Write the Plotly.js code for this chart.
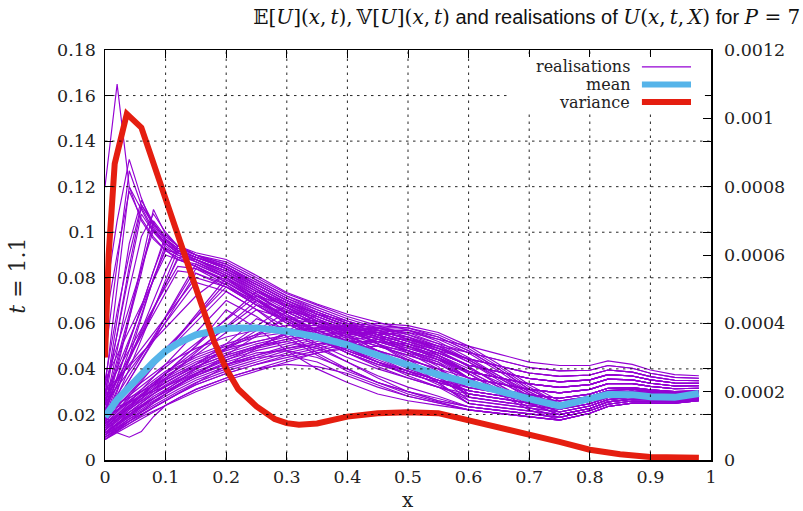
<!DOCTYPE html>
<html>
<head>
<meta charset="utf-8">
<script src="https://cdn.plot.ly/plotly-3.0.1.min.js"></script>
<style>html,body{margin:0;padding:0;background:#fff;}#chart{width:803px;height:511px;}</style>
</head>
<body>
<div id="chart"></div>
<script>
// ---------------- data ----------------
const xGrid = [0, 0.02, 0.04, 0.06, 0.08, 0.1, 0.12, 0.15, 0.2, 0.25, 0.3, 0.35, 0.4, 0.45, 0.5, 0.55, 0.6, 0.65, 0.7, 0.75, 0.8, 0.83, 0.87, 0.9, 0.94, 0.98];

// realisations U(x,t,X)
const realE01 = [0.120, 0.165, 0.120, 0.105, 0.097, 0.092, 0.089, 0.085, 0.078, 0.070, 0.063, 0.057, 0.052, 0.048, 0.044, 0.040, 0.0360, 0.0335, 0.0310, 0.0295, 0.0310, 0.0335, 0.0335, 0.0323, 0.0313, 0.0315];
const realE02 = [0.070, 0.105, 0.132, 0.115, 0.102, 0.095, 0.091, 0.088, 0.081, 0.074, 0.067, 0.061, 0.056, 0.052, 0.048, 0.044, 0.0388, 0.0361, 0.0334, 0.0319, 0.0331, 0.0355, 0.0352, 0.0337, 0.0325, 0.0326];
const realE03 = [0.045, 0.085, 0.127, 0.112, 0.104, 0.097, 0.092, 0.089, 0.084, 0.077, 0.070, 0.064, 0.059, 0.055, 0.051, 0.047, 0.0416, 0.0387, 0.0358, 0.0343, 0.0352, 0.0375, 0.0369, 0.0352, 0.0338, 0.0337];
const realE04 = [0.032, 0.075, 0.120, 0.110, 0.100, 0.094, 0.090, 0.087, 0.080, 0.072, 0.065, 0.059, 0.054, 0.050, 0.046, 0.042, 0.0360, 0.0335, 0.0310, 0.0295, 0.0310, 0.0335, 0.0335, 0.0323, 0.0313, 0.0315];
const realE05 = [0.028, 0.062, 0.095, 0.114, 0.104, 0.097, 0.093, 0.090, 0.086, 0.079, 0.072, 0.066, 0.061, 0.057, 0.053, 0.049, 0.0444, 0.0413, 0.0382, 0.0367, 0.0373, 0.0395, 0.0386, 0.0366, 0.0350, 0.0348];
const realE06 = [0.024, 0.048, 0.075, 0.098, 0.108, 0.100, 0.094, 0.090, 0.087, 0.080, 0.073, 0.068, 0.063, 0.059, 0.055, 0.051, 0.0472, 0.0439, 0.0406, 0.0391, 0.0394, 0.0415, 0.0403, 0.0381, 0.0363, 0.0359];
const realE07 = [0.022, 0.042, 0.062, 0.082, 0.105, 0.098, 0.094, 0.091, 0.088, 0.081, 0.0735, 0.0685, 0.064, 0.0605, 0.057, 0.053, 0.0500, 0.0465, 0.0430, 0.0415, 0.0415, 0.0435, 0.0420, 0.0395, 0.0375, 0.0370];
const realE08 = [0.020, 0.036, 0.052, 0.068, 0.083, 0.097, 0.093, 0.089, 0.085, 0.078, 0.071, 0.066, 0.061, 0.057, 0.053, 0.049, 0.0444, 0.0413, 0.0382, 0.0367, 0.0373, 0.0395, 0.0386, 0.0366, 0.0350, 0.0348];
const realE09 = [0.018, 0.031, 0.044, 0.057, 0.070, 0.083, 0.094, 0.090, 0.084, 0.076, 0.069, 0.064, 0.059, 0.055, 0.051, 0.047, 0.0416, 0.0387, 0.0358, 0.0343, 0.0352, 0.0375, 0.0369, 0.0352, 0.0338, 0.0337];
const realE10 = [0.017, 0.030, 0.045, 0.062, 0.080, 0.092, 0.091, 0.088, 0.082, 0.075, 0.068, 0.062, 0.057, 0.053, 0.049, 0.045, 0.0388, 0.0361, 0.0334, 0.0319, 0.0331, 0.0355, 0.0352, 0.0337, 0.0325, 0.0326];
const realE11 = [0.026, 0.055, 0.085, 0.111, 0.101, 0.095, 0.091, 0.088, 0.083, 0.076, 0.069, 0.063, 0.058, 0.054, 0.050, 0.046, 0.0388, 0.0361, 0.0334, 0.0319, 0.0331, 0.0355, 0.0352, 0.0337, 0.0325, 0.0326];
const realE12 = [0.021, 0.040, 0.062, 0.086, 0.110, 0.099, 0.094, 0.090, 0.085, 0.077, 0.070, 0.064, 0.059, 0.055, 0.051, 0.047, 0.0416, 0.0387, 0.0358, 0.0343, 0.0352, 0.0375, 0.0369, 0.0352, 0.0338, 0.0337];
const realE13 = [0.030, 0.055, 0.082, 0.108, 0.100, 0.095, 0.091, 0.088, 0.082, 0.074, 0.067, 0.061, 0.056, 0.052, 0.048, 0.044, 0.0388, 0.0361, 0.0334, 0.0319, 0.0331, 0.0355, 0.0352, 0.0337, 0.0325, 0.0326];
const realE14 = [0.019, 0.033, 0.048, 0.064, 0.080, 0.095, 0.092, 0.089, 0.084, 0.077, 0.070, 0.065, 0.060, 0.056, 0.052, 0.048, 0.0416, 0.0387, 0.0358, 0.0343, 0.0352, 0.0375, 0.0369, 0.0352, 0.0338, 0.0337];
const realE15 = [0.016, 0.028, 0.040, 0.053, 0.066, 0.079, 0.092, 0.089, 0.085, 0.078, 0.071, 0.065, 0.060, 0.056, 0.052, 0.048, 0.0444, 0.0413, 0.0382, 0.0367, 0.0373, 0.0395, 0.0386, 0.0366, 0.0350, 0.0348];
const realE16 = [0.060, 0.090, 0.118, 0.106, 0.098, 0.092, 0.088, 0.085, 0.078, 0.070, 0.063, 0.057, 0.052, 0.048, 0.044, 0.040, 0.0332, 0.0309, 0.0286, 0.0271, 0.0289, 0.0315, 0.0318, 0.0308, 0.0300, 0.0304];
const realE17 = [0.024, 0.044, 0.064, 0.084, 0.104, 0.097, 0.092, 0.088, 0.083, 0.076, 0.069, 0.063, 0.058, 0.054, 0.050, 0.046, 0.0388, 0.0361, 0.0334, 0.0319, 0.0331, 0.0355, 0.0352, 0.0337, 0.0325, 0.0326];
const realE18 = [0.021, 0.037, 0.052, 0.067, 0.083, 0.099, 0.094, 0.090, 0.086, 0.079, 0.072, 0.067, 0.062, 0.058, 0.054, 0.050, 0.0472, 0.0439, 0.0406, 0.0391, 0.0394, 0.0415, 0.0403, 0.0381, 0.0363, 0.0359];
const realE19 = [0.035, 0.065, 0.090, 0.112, 0.103, 0.096, 0.092, 0.089, 0.084, 0.077, 0.070, 0.064, 0.059, 0.055, 0.051, 0.047, 0.0416, 0.0387, 0.0358, 0.0343, 0.0352, 0.0375, 0.0369, 0.0352, 0.0338, 0.0337];
const realE20 = [0.022, 0.033, 0.044, 0.055, 0.066, 0.077, 0.089, 0.088, 0.083, 0.075, 0.068, 0.062, 0.057, 0.053, 0.049, 0.045, 0.0360, 0.0335, 0.0310, 0.0295, 0.0310, 0.0335, 0.0335, 0.0323, 0.0313, 0.0315];
const realE21 = [0.026, 0.040, 0.053, 0.066, 0.079, 0.093, 0.090, 0.087, 0.081, 0.074, 0.067, 0.061, 0.056, 0.052, 0.048, 0.044, 0.0360, 0.0335, 0.0310, 0.0295, 0.0310, 0.0335, 0.0335, 0.0323, 0.0313, 0.0315];
const realE22 = [0.033, 0.050, 0.067, 0.084, 0.101, 0.095, 0.091, 0.087, 0.081, 0.073, 0.066, 0.060, 0.055, 0.051, 0.047, 0.043, 0.0332, 0.0309, 0.0286, 0.0271, 0.0289, 0.0315, 0.0318, 0.0308, 0.0300, 0.0304];

const realM01 = [0.016, 0.025, 0.035, 0.044, 0.053, 0.063, 0.072, 0.086, 0.080, 0.070, 0.061, 0.054, 0.048, 0.043, 0.039, 0.035, 0.0332, 0.0309, 0.0286, 0.0271, 0.0289, 0.0315, 0.0318, 0.0308, 0.0300, 0.0304];
const realM02 = [0.015, 0.0215, 0.028, 0.0345, 0.041, 0.0475, 0.054, 0.064, 0.080, 0.073, 0.064, 0.056, 0.049, 0.043, 0.038, 0.034, 0.0304, 0.0283, 0.0262, 0.0247, 0.0268, 0.0295, 0.0301, 0.0294, 0.0288, 0.0293];
const realM03 = [0.020, 0.0254, 0.0308, 0.0362, 0.0416, 0.047, 0.0524, 0.0605, 0.074, 0.066, 0.056, 0.047, 0.040, 0.034, 0.030, 0.026, 0.0234, 0.0218, 0.0202, 0.0187, 0.0216, 0.0245, 0.0259, 0.0257, 0.0256, 0.0266];
const realM04 = [0.014, 0.0188, 0.0236, 0.0284, 0.0332, 0.038, 0.0428, 0.050, 0.062, 0.074, 0.069, 0.062, 0.055, 0.048, 0.042, 0.037, 0.0318, 0.0296, 0.0274, 0.0259, 0.0279, 0.0305, 0.0310, 0.0301, 0.0294, 0.0299];
const realM05 = [0.018, 0.022, 0.026, 0.030, 0.034, 0.038, 0.042, 0.048, 0.058, 0.068, 0.065, 0.059, 0.052, 0.045, 0.039, 0.033, 0.0262, 0.0244, 0.0226, 0.0211, 0.0237, 0.0265, 0.0276, 0.0272, 0.0269, 0.0277];
const realM06 = [0.012, 0.0157, 0.0195, 0.0232, 0.0269, 0.0307, 0.0344, 0.040, 0.0493, 0.0587, 0.068, 0.065, 0.060, 0.054, 0.047, 0.040, 0.0290, 0.0270, 0.0250, 0.0235, 0.0258, 0.0285, 0.0293, 0.0286, 0.0281, 0.0288];
const realM07 = [0.025, 0.032, 0.039, 0.046, 0.053, 0.060, 0.067, 0.078, 0.074, 0.066, 0.058, 0.051, 0.045, 0.040, 0.036, 0.032, 0.0290, 0.0270, 0.0250, 0.0235, 0.0258, 0.0285, 0.0293, 0.0286, 0.0281, 0.0288];
const realM08 = [0.030, 0.039, 0.048, 0.0575, 0.0667, 0.0758, 0.085, 0.084, 0.077, 0.068, 0.060, 0.053, 0.047, 0.042, 0.038, 0.034, 0.0304, 0.0283, 0.0262, 0.0247, 0.0268, 0.0295, 0.0301, 0.0294, 0.0288, 0.0293];
const realM09 = [0.022, 0.0247, 0.0273, 0.030, 0.0327, 0.0353, 0.038, 0.042, 0.0487, 0.0553, 0.062, 0.060, 0.055, 0.048, 0.041, 0.034, 0.0248, 0.0231, 0.0214, 0.0199, 0.0226, 0.0255, 0.0267, 0.0265, 0.0263, 0.0271];
const realM10 = [0.035, 0.046, 0.057, 0.068, 0.079, 0.090, 0.088, 0.085, 0.079, 0.072, 0.065, 0.059, 0.054, 0.050, 0.046, 0.042, 0.0360, 0.0335, 0.0310, 0.0295, 0.0310, 0.0335, 0.0335, 0.0323, 0.0313, 0.0315];
const realM11 = [0.013, 0.018, 0.023, 0.028, 0.033, 0.038, 0.043, 0.050, 0.066, 0.058, 0.048, 0.040, 0.034, 0.029, 0.026, 0.024, 0.0220, 0.0205, 0.0190, 0.0175, 0.0205, 0.0235, 0.0250, 0.0250, 0.0250, 0.0260];
const realM12 = [0.019, 0.022, 0.025, 0.028, 0.031, 0.034, 0.037, 0.042, 0.051, 0.062, 0.057, 0.050, 0.043, 0.037, 0.032, 0.028, 0.0234, 0.0218, 0.0202, 0.0187, 0.0216, 0.0245, 0.0259, 0.0257, 0.0256, 0.0266];
const realM13 = [0.030, 0.0356, 0.0412, 0.0468, 0.0524, 0.058, 0.0636, 0.072, 0.082, 0.075, 0.067, 0.059, 0.052, 0.046, 0.041, 0.037, 0.0332, 0.0309, 0.0286, 0.0271, 0.0289, 0.0315, 0.0318, 0.0308, 0.0300, 0.0304];
const realM14 = [0.011, 0.014, 0.017, 0.020, 0.023, 0.026, 0.029, 0.0337, 0.0413, 0.049, 0.0564, 0.064, 0.061, 0.055, 0.048, 0.041, 0.0276, 0.0257, 0.0238, 0.0223, 0.0247, 0.0275, 0.0284, 0.0279, 0.0275, 0.0282];
const realM15 = [0.020, 0.0285, 0.037, 0.0456, 0.0541, 0.0627, 0.0712, 0.084, 0.079, 0.071, 0.063, 0.056, 0.050, 0.045, 0.041, 0.037, 0.0332, 0.0309, 0.0286, 0.0271, 0.0289, 0.0315, 0.0318, 0.0308, 0.0300, 0.0304];
const realM16 = [0.017, 0.0231, 0.0292, 0.0353, 0.0414, 0.0475, 0.0536, 0.0628, 0.078, 0.071, 0.062, 0.054, 0.047, 0.041, 0.036, 0.032, 0.0276, 0.0257, 0.0238, 0.0223, 0.0247, 0.0275, 0.0284, 0.0279, 0.0275, 0.0282];
const realM17 = [0.013, 0.0176, 0.0222, 0.0267, 0.0312, 0.0358, 0.0404, 0.0472, 0.0586, 0.070, 0.066, 0.060, 0.053, 0.046, 0.040, 0.035, 0.0290, 0.0270, 0.0250, 0.0235, 0.0258, 0.0285, 0.0293, 0.0286, 0.0281, 0.0288];
const realM18 = [0.024, 0.0347, 0.0453, 0.056, 0.0667, 0.0773, 0.088, 0.086, 0.080, 0.072, 0.064, 0.057, 0.051, 0.046, 0.042, 0.038, 0.0318, 0.0296, 0.0274, 0.0259, 0.0279, 0.0305, 0.0310, 0.0301, 0.0294, 0.0299];
const realM19 = [0.016, 0.0193, 0.0225, 0.0258, 0.029, 0.0323, 0.0356, 0.0405, 0.0487, 0.0568, 0.065, 0.063, 0.058, 0.051, 0.044, 0.037, 0.0262, 0.0244, 0.0226, 0.0211, 0.0237, 0.0265, 0.0276, 0.0272, 0.0269, 0.0277];
const realM20 = [0.028, 0.035, 0.0419, 0.0488, 0.0557, 0.0627, 0.0696, 0.080, 0.076, 0.068, 0.060, 0.053, 0.047, 0.042, 0.038, 0.034, 0.0304, 0.0283, 0.0262, 0.0247, 0.0268, 0.0295, 0.0301, 0.0294, 0.0288, 0.0293];
const realM21 = [0.014, 0.0196, 0.0252, 0.0308, 0.0364, 0.042, 0.0476, 0.056, 0.070, 0.063, 0.054, 0.046, 0.039, 0.034, 0.030, 0.027, 0.0234, 0.0218, 0.0202, 0.0187, 0.0216, 0.0245, 0.0259, 0.0257, 0.0256, 0.0266];
const realM22 = [0.021, 0.0233, 0.0256, 0.0279, 0.0301, 0.0324, 0.0347, 0.0381, 0.0439, 0.0496, 0.0553, 0.061, 0.058, 0.051, 0.043, 0.034, 0.0248, 0.0231, 0.0214, 0.0199, 0.0226, 0.0255, 0.0267, 0.0265, 0.0263, 0.0271];
const realM23 = [0.018, 0.0265, 0.035, 0.0436, 0.0521, 0.0607, 0.0692, 0.082, 0.077, 0.069, 0.061, 0.054, 0.048, 0.043, 0.039, 0.035, 0.0318, 0.0296, 0.0274, 0.0259, 0.0279, 0.0305, 0.0310, 0.0301, 0.0294, 0.0299];
const realM24 = [0.022, 0.0274, 0.0328, 0.0382, 0.0436, 0.049, 0.0544, 0.0625, 0.076, 0.070, 0.062, 0.055, 0.049, 0.044, 0.039, 0.035, 0.0304, 0.0283, 0.0262, 0.0247, 0.0268, 0.0295, 0.0301, 0.0294, 0.0288, 0.0293];
const realM25 = [0.016, 0.020, 0.024, 0.028, 0.032, 0.036, 0.040, 0.046, 0.056, 0.066, 0.062, 0.056, 0.049, 0.043, 0.037, 0.032, 0.0248, 0.0231, 0.0214, 0.0199, 0.0226, 0.0255, 0.0267, 0.0265, 0.0263, 0.0271];
const realM26 = [0.012, 0.0154, 0.0188, 0.0222, 0.0256, 0.029, 0.0324, 0.0375, 0.046, 0.0545, 0.063, 0.061, 0.057, 0.051, 0.045, 0.039, 0.0276, 0.0257, 0.0238, 0.0223, 0.0247, 0.0275, 0.0284, 0.0279, 0.0275, 0.0282];
const realM27 = [0.026, 0.0355, 0.045, 0.0545, 0.064, 0.0735, 0.083, 0.082, 0.076, 0.068, 0.061, 0.054, 0.048, 0.043, 0.039, 0.035, 0.0290, 0.0270, 0.0250, 0.0235, 0.0258, 0.0285, 0.0293, 0.0286, 0.0281, 0.0288];
const realM28 = [0.020, 0.0242, 0.0283, 0.0325, 0.0366, 0.0408, 0.045, 0.0512, 0.0616, 0.072, 0.068, 0.061, 0.054, 0.047, 0.041, 0.036, 0.0304, 0.0283, 0.0262, 0.0247, 0.0268, 0.0295, 0.0301, 0.0294, 0.0288, 0.0293];

const realL01 = [0.010, 0.013, 0.016, 0.019, 0.0215, 0.024, 0.0265, 0.030, 0.035, 0.039, 0.043, 0.047, 0.050, 0.052, 0.051, 0.045, 0.038, 0.030, 0.023, 0.0187, 0.0216, 0.0245, 0.0259, 0.0257, 0.0256, 0.0266];
const realL02 = [0.012, 0.016, 0.020, 0.0235, 0.027, 0.030, 0.033, 0.037, 0.042, 0.046, 0.050, 0.053, 0.055, 0.056, 0.054, 0.048, 0.041, 0.033, 0.025, 0.0199, 0.0226, 0.0255, 0.0267, 0.0265, 0.0263, 0.0271];
const realL03 = [0.014, 0.019, 0.024, 0.0285, 0.033, 0.037, 0.040, 0.044, 0.049, 0.052, 0.055, 0.057, 0.058, 0.057, 0.053, 0.046, 0.039, 0.032, 0.0255, 0.0211, 0.0237, 0.0265, 0.0276, 0.0272, 0.0269, 0.0277];
const realL04 = [0.011, 0.015, 0.019, 0.023, 0.026, 0.029, 0.032, 0.036, 0.041, 0.045, 0.049, 0.052, 0.055, 0.057, 0.057, 0.052, 0.045, 0.037, 0.029, 0.0235, 0.0258, 0.0285, 0.0293, 0.0286, 0.0281, 0.0288];
const realL05 = [0.016, 0.021, 0.026, 0.030, 0.034, 0.038, 0.041, 0.045, 0.050, 0.054, 0.056, 0.058, 0.058, 0.056, 0.052, 0.046, 0.040, 0.034, 0.028, 0.0223, 0.0247, 0.0275, 0.0284, 0.0279, 0.0275, 0.0282];
const realL06 = [0.013, 0.017, 0.021, 0.025, 0.029, 0.032, 0.035, 0.039, 0.044, 0.048, 0.051, 0.054, 0.056, 0.058, 0.058, 0.055, 0.049, 0.041, 0.032, 0.0247, 0.0268, 0.0295, 0.0301, 0.0294, 0.0288, 0.0293];
const realL07 = [0.009, 0.012, 0.015, 0.018, 0.021, 0.024, 0.027, 0.031, 0.036, 0.040, 0.044, 0.047, 0.049, 0.050, 0.048, 0.043, 0.036, 0.029, 0.022, 0.0175, 0.0205, 0.0235, 0.0250, 0.0250, 0.0250, 0.0260];
const realL08 = [0.018, 0.024, 0.029, 0.034, 0.038, 0.042, 0.045, 0.049, 0.054, 0.057, 0.059, 0.059, 0.057, 0.053, 0.048, 0.042, 0.036, 0.030, 0.0245, 0.0199, 0.0226, 0.0255, 0.0267, 0.0265, 0.0263, 0.0271];
const realL09 = [0.012, 0.017, 0.022, 0.026, 0.030, 0.034, 0.037, 0.041, 0.046, 0.050, 0.053, 0.056, 0.058, 0.059, 0.058, 0.054, 0.048, 0.040, 0.031, 0.0247, 0.0268, 0.0295, 0.0301, 0.0294, 0.0288, 0.0293];
const realL10 = [0.010, 0.014, 0.018, 0.021, 0.024, 0.027, 0.030, 0.034, 0.039, 0.043, 0.047, 0.050, 0.053, 0.054, 0.053, 0.048, 0.041, 0.033, 0.026, 0.0211, 0.0237, 0.0265, 0.0276, 0.0272, 0.0269, 0.0277];
const realL11 = [0.011, 0.016, 0.021, 0.025, 0.029, 0.033, 0.036, 0.040, 0.045, 0.049, 0.052, 0.055, 0.057, 0.058, 0.056, 0.051, 0.044, 0.036, 0.028, 0.0223, 0.0247, 0.0275, 0.0284, 0.0279, 0.0275, 0.0282];
const realL12 = [0.015, 0.020, 0.025, 0.029, 0.033, 0.036, 0.039, 0.043, 0.048, 0.052, 0.055, 0.058, 0.059, 0.058, 0.055, 0.050, 0.044, 0.037, 0.030, 0.0235, 0.0258, 0.0285, 0.0293, 0.0286, 0.0281, 0.0288];
const realL13 = [0.010, 0.0135, 0.017, 0.020, 0.023, 0.026, 0.029, 0.033, 0.038, 0.042, 0.046, 0.049, 0.052, 0.055, 0.056, 0.053, 0.047, 0.039, 0.030, 0.0235, 0.0258, 0.0285, 0.0293, 0.0286, 0.0281, 0.0288];
const realL14 = [0.013, 0.018, 0.023, 0.027, 0.031, 0.035, 0.038, 0.042, 0.047, 0.051, 0.054, 0.057, 0.059, 0.060, 0.059, 0.056, 0.050, 0.042, 0.033, 0.0259, 0.0279, 0.0305, 0.0310, 0.0301, 0.0294, 0.0299];
const realL15 = [0.012, 0.016, 0.020, 0.024, 0.027, 0.030, 0.033, 0.037, 0.042, 0.046, 0.049, 0.051, 0.052, 0.052, 0.050, 0.045, 0.039, 0.032, 0.025, 0.0199, 0.0226, 0.0255, 0.0267, 0.0265, 0.0263, 0.0271];
const realL16 = [0.014, 0.019, 0.023, 0.027, 0.031, 0.034, 0.037, 0.041, 0.046, 0.050, 0.053, 0.055, 0.056, 0.056, 0.054, 0.049, 0.043, 0.036, 0.029, 0.0223, 0.0247, 0.0275, 0.0284, 0.0279, 0.0275, 0.0282];
const realL17 = [0.011, 0.0145, 0.018, 0.0215, 0.025, 0.028, 0.031, 0.035, 0.040, 0.044, 0.048, 0.051, 0.054, 0.056, 0.057, 0.054, 0.048, 0.040, 0.031, 0.0247, 0.0268, 0.0295, 0.0301, 0.0294, 0.0288, 0.0293];
const realL18 = [0.017, 0.022, 0.027, 0.031, 0.035, 0.039, 0.042, 0.046, 0.051, 0.055, 0.057, 0.058, 0.057, 0.054, 0.050, 0.044, 0.038, 0.031, 0.025, 0.0199, 0.0226, 0.0255, 0.0267, 0.0265, 0.0263, 0.0271];
const realL19 = [0.009, 0.0125, 0.016, 0.0195, 0.023, 0.026, 0.029, 0.033, 0.038, 0.042, 0.045, 0.048, 0.051, 0.053, 0.053, 0.050, 0.043, 0.035, 0.027, 0.0211, 0.0237, 0.0265, 0.0276, 0.0272, 0.0269, 0.0277];

const realO01 = [0.020, 0.012, 0.010, 0.0125, 0.019, 0.024, 0.027, 0.031, 0.036, 0.040, 0.042, 0.041, 0.038, 0.033, 0.028, 0.025, 0.0220, 0.0205, 0.0190, 0.0175, 0.0205, 0.0235, 0.0250, 0.0250, 0.0250, 0.0260];
const realO02 = [0.009, 0.013, 0.017, 0.021, 0.025, 0.029, 0.033, 0.038, 0.045, 0.050, 0.052, 0.049, 0.043, 0.036, 0.030, 0.026, 0.0234, 0.0218, 0.0202, 0.0187, 0.0216, 0.0245, 0.0259, 0.0257, 0.0256, 0.0266];
const realO03 = [0.015, 0.018, 0.021, 0.024, 0.027, 0.030, 0.033, 0.037, 0.043, 0.047, 0.048, 0.045, 0.040, 0.034, 0.029, 0.0255, 0.0220, 0.0205, 0.0190, 0.0175, 0.0205, 0.0235, 0.0250, 0.0250, 0.0250, 0.0260];
const realO04 = [0.011, 0.016, 0.020, 0.024, 0.028, 0.031, 0.034, 0.038, 0.042, 0.045, 0.046, 0.043, 0.037, 0.032, 0.028, 0.025, 0.0220, 0.0205, 0.0190, 0.0175, 0.0205, 0.0235, 0.0250, 0.0250, 0.0250, 0.0260];

const realisations = [
  realE01, realE02, realE03, realE04, realE05, realE06, realE07, realE08, realE09, realE10, realE11,
  realE12, realE13, realE14, realE15, realE16, realE17, realE18, realE19, realE20, realE21, realE22,
  realM01, realM02, realM03, realM04, realM05, realM06, realM07, realM08, realM09, realM10, realM11, realM12, realM13, realM14,
  realM15, realM16, realM17, realM18, realM19, realM20, realM21, realM22, realM23, realM24, realM25, realM26, realM27, realM28,
  realL01, realL02, realL03, realL04, realL05, realL06, realL07, realL08, realL09, realL10,
  realL11, realL12, realL13, realL14, realL15, realL16, realL17, realL18, realL19,
  realO01, realO02, realO03, realO04
];

// mean E[U](x,t) (left axis)
const meanValues = [0.019, 0.0265, 0.032, 0.038, 0.043, 0.0478, 0.0512, 0.055, 0.0578, 0.058, 0.0565, 0.054, 0.0505, 0.046, 0.0415, 0.0375, 0.034, 0.030, 0.0268, 0.0238, 0.0268, 0.0288, 0.0287, 0.0278, 0.0275, 0.0292];

// variance V[U](x,t) (right axis)
const varX = [0, 0.006, 0.016, 0.036, 0.06, 0.08, 0.1, 0.12, 0.15, 0.18, 0.2, 0.22, 0.25, 0.28, 0.3, 0.32, 0.35, 0.4, 0.45, 0.5, 0.55, 0.6, 0.65, 0.7, 0.75, 0.8, 0.85, 0.9, 0.94, 0.98];
const varValues = [0.0003, 0.0006, 0.000867, 0.001013, 0.000973, 0.000867, 0.00076, 0.00066, 0.0005, 0.000347, 0.000267, 0.000207, 0.000157, 0.00012, 0.000108, 0.000103, 0.000107, 0.000127, 0.000137, 0.00014, 0.000137, 0.000117, 0.000093, 0.000073, 0.000053, 0.00003, 0.000017, 0.0000087, 0.0000067, 0.0000067];

// axis ticks
const xTickVals = [0, 0.1, 0.2, 0.3, 0.4, 0.5, 0.6, 0.7, 0.8, 0.9, 1];
const yTickVals = [0, 0.02, 0.04, 0.06, 0.08, 0.1, 0.12, 0.14, 0.16, 0.18];
const y2TickVals = [0, 0.0002, 0.0004, 0.0006, 0.0008, 0.001, 0.0012];

// legend labels
const legendLabels = ['realisations', 'mean', 'variance'];

// ---------------- styles ----------------
const PURPLE = '#9400d3', CYAN = '#56b4e9', RED = '#e51e10';
const SERIF = 'DejaVu Serif';
const SANS = 'Liberation Sans';

const traces = [];
realisations.forEach(function (r) {
  traces.push({x: xGrid, y: r, type: 'scatter', mode: 'lines', yaxis: 'y',
    line: {color: PURPLE, width: 1.15}, hoverinfo: 'skip', showlegend: false});
});
traces.push({x: xGrid, y: meanValues, type: 'scatter', mode: 'lines', yaxis: 'y',
  line: {color: CYAN, width: 7}, hoverinfo: 'skip', showlegend: false});
traces.push({x: varX, y: varValues, type: 'scatter', mode: 'lines', yaxis: 'y2',
  line: {color: RED, width: 6}, hoverinfo: 'skip', showlegend: false});

// grid drawn in front (gnuplot style)
const shapes = [];
const gridDash = '2.5px,4.5px';
const gridColor = 'rgba(0,0,0,0.85)';
xTickVals.slice(1, -1).forEach(function (v) {
  shapes.push({type: 'line', xref: 'x', yref: 'paper', x0: v, x1: v, y0: 0, y1: 1, layer: 'above',
    line: {color: gridColor, width: 1, dash: gridDash}});
});
yTickVals.slice(1, -1).forEach(function (v) {
  shapes.push({type: 'line', xref: 'paper', yref: 'y', x0: 0, x1: 1, y0: v, y1: v, layer: 'above',
    line: {color: gridColor, width: 1, dash: gridDash}});
});
// key box and samples
shapes.push({type: 'rect', xref: 'paper', yref: 'paper', x0: 0.668, x1: 0.99, y0: 0.845, y1: 0.983, layer: 'above',
  fillcolor: 'white', line: {width: 0}});
const keyRows = [0.959, 0.916, 0.873];
const keyStyles = [{color: PURPLE, width: 1.3}, {color: CYAN, width: 6}, {color: RED, width: 6}];
const annotations = [];
legendLabels.forEach(function (lab, i) {
  shapes.push({type: 'line', xref: 'paper', yref: 'paper', x0: 0.886, x1: 0.967, y0: keyRows[i], y1: keyRows[i],
    layer: 'above', line: keyStyles[i]});
  annotations.push({xref: 'paper', yref: 'paper', x: 0.868, y: keyRows[i], xanchor: 'right', yanchor: 'middle',
    text: lab, showarrow: false, borderpad: 0, font: {family: SERIF, size: 16, color: '#222'}});
});
// axis labels
annotations.push({xref: 'paper', yref: 'paper', x: -0.144, y: 0.449, xanchor: 'center', yanchor: 'middle',
  textangle: -90, text: '<i>t</i> = 1.1', showarrow: false, font: {family: SERIF, size: 22, color: '#222'}});
annotations.push({xref: 'paper', yref: 'paper', x: 0.5, y: -0.097, xanchor: 'center', yanchor: 'middle',
  text: 'x', showarrow: false, font: {family: SERIF, size: 20, color: '#222'}});

const mathSpan = function (s) { return '<span style="font-family:DejaVu Serif">' + s + '</span>'; };
const titleText =
  mathSpan('𝔼[<i>U</i>](<i>x</i>,\u2009<i>t</i>),\u2009𝕍[<i>U</i>](<i>x</i>,\u2009<i>t</i>)') +
  ' and realisations of ' +
  mathSpan('<i>U</i>(<i>x</i>,\u2009<i>t</i>,\u2009<i>X</i>)') +
  ' for ' +
  mathSpan('<i>P</i> = 7');

const axisFont = {family: SERIF, size: 17.5, color: '#222'};
const layout = {
  width: 803, height: 511,
  margin: {l: 105, r: 92, t: 50, b: 51, pad: 0},
  paper_bgcolor: 'white', plot_bgcolor: 'white',
  showlegend: false,
  title: {text: titleText, xref: 'paper', x: 0.696, xanchor: 'center', yref: 'container', y: 0.966, yanchor: 'middle',
    font: {family: SANS, size: 20, color: '#111'}},
  xaxis: {range: [0, 1], tickvals: xTickVals, tickformat: '.1~f', ticks: 'inside', ticklen: 8, tickwidth: 1,
    tickcolor: '#000', showline: true, linecolor: '#000', linewidth: 1.5, mirror: 'ticks', showgrid: false,
    zeroline: false, tickfont: axisFont, ticklabelstandoff: 0, fixedrange: true},
  yaxis: {range: [0, 0.18], tickvals: yTickVals, tickformat: '.2~f', ticks: 'inside', ticklen: 8, tickwidth: 1,
    tickcolor: '#000', showline: true, linecolor: '#000', linewidth: 1.5, mirror: 'ticks', showgrid: false,
    zeroline: false, tickfont: axisFont, ticklabelstandoff: 4, fixedrange: true},
  yaxis2: {range: [0, 0.0012], tickvals: y2TickVals, tickformat: '.4~f', overlaying: 'y', side: 'right',
    ticks: 'inside', ticklen: 8, tickwidth: 1, tickcolor: '#000', showline: false, showgrid: false,
    zeroline: false, tickfont: axisFont, ticklabelstandoff: 12, fixedrange: true},
  shapes: shapes,
  annotations: annotations
};

Plotly.newPlot('chart', traces, layout, {staticPlot: true, displayModeBar: false});
</script>
</body>
</html>
